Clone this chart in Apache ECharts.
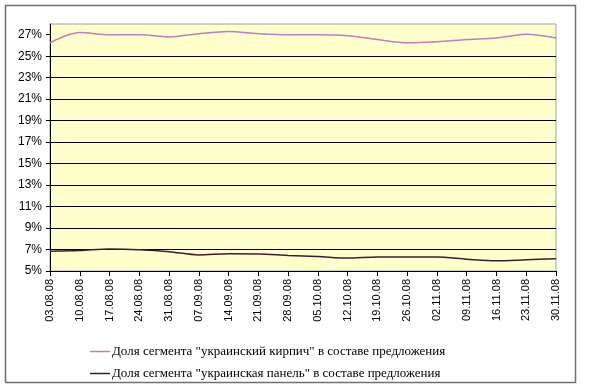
<!DOCTYPE html>
<html><head><meta charset="utf-8">
<script src="https://cdn.jsdelivr.net/npm/echarts@6/dist/echarts.min.js"></script>
<style>html,body{margin:0;padding:0;background:#fff}#c{width:600px;height:390px}</style>
</head><body><div id="c"></div>
<script>
var categories = ['03.08.08','10.08.08','17.08.08','24.08.08','31.08.08','07.09.08','14.09.08','21.09.08','28.09.08','05.10.08','12.10.08','19.10.08','26.10.08','02.11.08','09.11.08','16.11.08','23.11.08','30.11.08'];
var brickName = 'Доля сегмента "украинский кирпич" в составе предложения';
var panelName = 'Доля сегмента "украинская панель" в составе предложения';
var brickValues = [26.25, 27.2, 27.0, 27.0, 26.8, 27.1, 27.3, 27.1, 27.0, 27.0, 26.9, 26.55, 26.25, 26.35, 26.55, 26.7, 27.05, 26.7];
var panelValues = [6.85, 6.9, 7.05, 6.98, 6.8, 6.5, 6.6, 6.58, 6.45, 6.35, 6.2, 6.3, 6.3, 6.3, 6.1, 5.95, 6.05, 6.15];
var yTicks = [5, 7, 9, 11, 13, 15, 17, 19, 21, 23, 25, 27];

var chart = echarts.init(document.getElementById('c'), null, {renderer: 'canvas'});
chart.setOption({
  animation: false,
  backgroundColor: '#fff',
  graphic: [{type: 'rect', shape: {x: 5.5, y: 5.5, width: 570, height: 377}, style: {fill: 'none', stroke: '#707070', lineWidth: 1.5}, z: -1}],
  grid: {left: 50, right: 44, top: 24, bottom: 119, show: true, backgroundColor: '#FFFFCC', borderColor: '#A0A0A0', borderWidth: 1},
  xAxis: {
    type: 'category', data: categories, boundaryGap: false,
    axisLine: {lineStyle: {color: '#000', width: 1}},
    axisTick: {show: true, inside: false, length: 5, lineStyle: {color: '#000'}},
    axisLabel: {rotate: 90, color: '#000', fontFamily: 'Liberation Sans', fontSize: 11, margin: 8},
    splitLine: {show: false}
  },
  yAxis: {
    type: 'value', min: 5, max: 28, interval: 2,
    axisLine: {show: true, lineStyle: {color: '#000', width: 1}},
    axisTick: {show: true, length: 4, lineStyle: {color: '#000'}, customValues: yTicks},
    axisLabel: {color: '#000', fontFamily: 'Liberation Sans', fontSize: 12, margin: 8, customValues: yTicks,
      formatter: function (v) { return v + '%'; }},
    splitLine: {show: true, showMaxLine: false, showMinLine: false, lineStyle: {color: '#000', width: 1}}
  },
  legend: {
    orient: 'vertical', left: 85, top: 340, itemGap: 9, itemWidth: 20, itemHeight: 1.5, icon: 'rect',
    textStyle: {fontFamily: 'Liberation Serif', fontSize: 13, color: '#000', padding: [0, 0, 0, -3]},
    data: [brickName, panelName]
  },
  series: [
    {name: brickName, type: 'line', data: brickValues, smooth: 0.3, showSymbol: false, symbol: 'none',
     lineStyle: {color: '#C27BC0', width: 1.5}, itemStyle: {color: '#C27BC0'}},
    {name: panelName, type: 'line', data: panelValues, smooth: 0.3, showSymbol: false, symbol: 'none',
     lineStyle: {color: '#3A1A3A', width: 1.5}, itemStyle: {color: '#3A1A3A'}}
  ]
});
</script></body></html>
